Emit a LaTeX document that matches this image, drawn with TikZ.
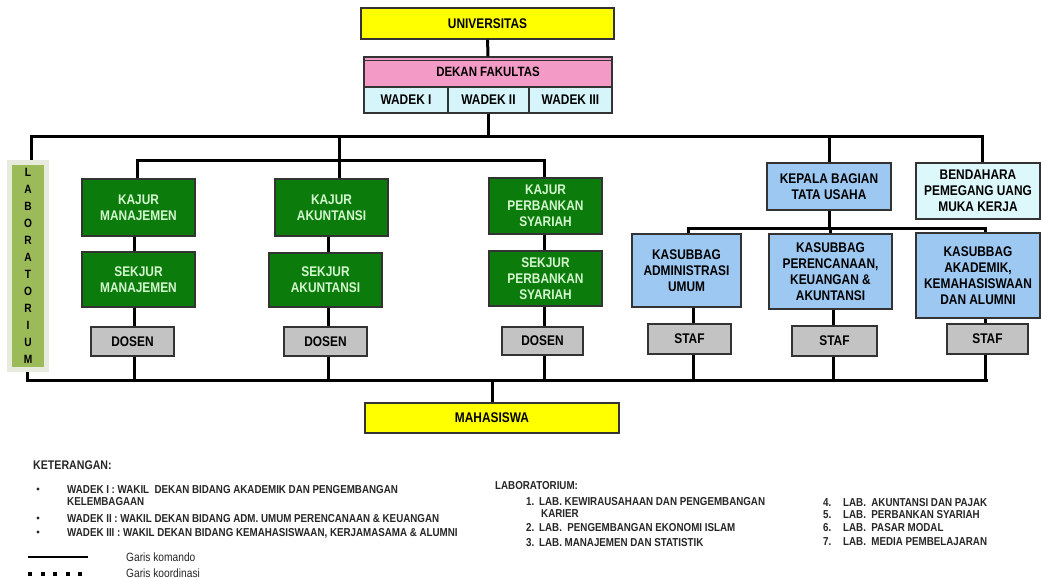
\documentclass[tikz,border=0pt]{standalone}
\usepackage{fontspec}
\setmainfont{Liberation Sans}[FakeStretch=0.85]
\definecolor{univY}{HTML}{FFFF00}
\definecolor{dekanP}{HTML}{F49AC6}
\definecolor{wadekC}{HTML}{D6F5FA}
\definecolor{grn}{HTML}{0B7B0B}
\definecolor{grnTxt}{HTML}{D4F7CF}
\definecolor{olive}{HTML}{9BBB59}
\definecolor{labBorder}{HTML}{E6EBDD}
\definecolor{blu}{HTML}{9CC8F2}
\definecolor{bendC}{HTML}{DDF8FB}
\definecolor{gry}{HTML}{C3C3C3}
\definecolor{edge}{HTML}{333333}
\tikzset{
  cmd/.style={line width=3pt, black},
  box/.style={draw=edge, line width=1.2pt, align=center, inner sep=0pt,
    font=\bfseries\fontsize{14}{16}\selectfont, text=black},
  ybox/.style={box, fill=univY},
  gbox/.style={box, fill=grn, text=grnTxt, minimum width=113pt},
  sbox/.style={box, fill=gry},
  bbox/.style={box, fill=blu},
  leg/.style={anchor=base west, inner sep=0pt, font=\bfseries\fontsize{11.5}{13}\selectfont, text=black!85},
  legr/.style={anchor=base west, inner sep=0pt, font=\fontsize{12}{14}\selectfont, text=black!85},
}
\begin{document}
\begin{tikzpicture}[x=1pt,y=-1pt]
\useasboundingbox[fill=white] (0,0) rectangle (1041,578);

% top
\node[ybox, minimum width=253pt, minimum height=31pt] (univ) at (487.5,23.5) {UNIVERSITAS};
\node[box, fill=dekanP, minimum width=248pt, minimum height=30pt, font=\bfseries\fontsize{13.5}{16}\selectfont] (dekan) at (488,72) {\raisebox{-2pt}{DEKAN FAKULTAS}};
\draw[edge, line width=0.6pt] ([yshift=-4pt]dekan.north west) -- ([yshift=-4pt]dekan.north east);
\node[box, fill=wadekC, minimum width=84pt, minimum height=26pt] (wadek1) at (406,100) {WADEK I};
\node[box, fill=wadekC, minimum width=81pt, minimum height=26pt] (wadek2) at (488.5,100) {WADEK II};
\node[box, fill=wadekC, minimum width=83pt, minimum height=26pt] (wadek3) at (570.5,100) {WADEK III};

% laboratorium
\node[draw=labBorder, line width=5pt, fill=olive, minimum width=37pt, minimum height=207pt,
  align=center, inner sep=0pt, font=\bfseries\fontsize{12}{17}\selectfont] (lab) at (28,265.5)
  {L\\A\\B\\O\\R\\A\\T\\O\\R\\I\\U\\M};

% jurusan
\node[gbox, minimum height=57pt] (kajur1) at (138.5,207.5) {KAJUR\\MANAJEMEN};
\node[gbox, minimum height=55pt] (sekjur1) at (138.5,279.5) {SEKJUR\\MANAJEMEN};
\node[sbox, minimum width=83pt, minimum height=29pt] (dosen1) at (132.5,341.5) {DOSEN};
\node[gbox, minimum height=57pt] (kajur2) at (331.5,207.5) {KAJUR\\AKUNTANSI};
\node[gbox, minimum height=54pt] (sekjur2) at (325.5,280) {SEKJUR\\AKUNTANSI};
\node[sbox, minimum width=83pt, minimum height=29pt] (dosen2) at (325.5,341.5) {DOSEN};
\node[gbox, minimum height=56pt] (kajur3) at (545.5,206) {KAJUR\\PERBANKAN\\SYARIAH};
\node[gbox, minimum height=55pt] (sekjur3) at (545.5,278.5) {SEKJUR\\PERBANKAN\\SYARIAH};
\node[sbox, minimum width=81pt, minimum height=28pt] (dosen3) at (542.5,341) {DOSEN};

% tata usaha
\node[bbox, minimum width=124pt, minimum height=47pt] (kepala) at (829,186.5) {KEPALA BAGIAN\\TATA USAHA};
\node[box, fill=bendC, minimum width=124pt, minimum height=56pt] (bend) at (978,191) {BENDAHARA\\PEMEGANG UANG\\MUKA KERJA};
\node[bbox, minimum width=109pt, minimum height=73pt] (kas1) at (686.5,270.5) {KASUBBAG\\ADMINISTRASI\\UMUM};
\node[bbox, minimum width=123pt, minimum height=75pt] (kas2) at (830.5,271.5) {KASUBBAG\\PERENCANAAN,\\KEUANGAN \&\\AKUNTANSI};
\node[bbox, minimum width=124pt, minimum height=85pt] (kas3) at (978,275.5) {KASUBBAG\\AKADEMIK,\\KEMAHASISWAAN\\DAN ALUMNI};
\node[sbox, minimum width=83pt, minimum height=30pt] (staf1) at (689.5,339) {STAF};
\node[sbox, minimum width=85pt, minimum height=30pt] (staf2) at (834.5,341) {STAF};
\node[sbox, minimum width=81pt, minimum height=30pt] (staf3) at (987.5,339) {STAF};

% mahasiswa
\node[ybox, minimum width=254pt, minimum height=30pt] (mhs) at (492,418) {MAHASISWA};

% connectors
\draw[cmd] (univ) -- (dekan);
\coordinate (tbL) at (31,136); \coordinate (tbR) at (982,136);
\draw[cmd] (lab.north -| tbL) -- (tbL) -- (tbR) -- (bend.north -| tbR);
\draw[cmd] (wadek2.south) -- (wadek2.south |- tbL);
\draw[cmd] (kepala.north) -- (kepala.north |- tbL);
\coordinate (sbL) at (137,160); \coordinate (sbM) at (339,160); \coordinate (sbR) at (544,160);
\draw[cmd] (sbM) -- (sbM |- tbL);
\draw[cmd] (kajur1.north -| sbL) -- (sbL) -- (sbR) -- (kajur3.north -| sbR);
\draw[cmd] (sbM) -- (kajur2.north -| sbM);

\coordinate (bbL) at (27,380); \coordinate (bbR) at (988,380);
\draw[cmd] (lab.south -| bbL) -- (bbL) -- (bbR);
\draw[cmd] (mhs.north) -- (mhs.north |- bbL);

\coordinate (c1) at (134,0); \coordinate (c2) at (328,0); \coordinate (c3) at (544,0);
\draw[cmd] (kajur1.south -| c1) -- (sekjur1.north -| c1);
\draw[cmd] (sekjur1.south -| c1) -- (dosen1.north -| c1);
\draw[cmd] (dosen1.south -| c1) -- (c1 |- bbL);
\draw[cmd] (kajur2.south -| c2) -- (sekjur2.north -| c2);
\draw[cmd] (sekjur2.south -| c2) -- (dosen2.north -| c2);
\draw[cmd] (dosen2.south -| c2) -- (c2 |- bbL);
\draw[cmd] (kajur3.south -| c3) -- (sekjur3.north -| c3);
\draw[cmd] (sekjur3.south -| c3) -- (dosen3.north -| c3);
\draw[cmd] (dosen3.south -| c3) -- (c3 |- bbL);

\coordinate (kbL) at (688,228); \coordinate (kbR) at (985,228);
\draw[cmd] (kepala.south) -- (kepala.south |- kbL);
\draw[cmd] (kas1.north -| kbL) -- (kbL) -- (kbR) -- (kas3.north -| kbR);
\draw[cmd] (kas2.north) -- (kas2.north |- kbL);
\coordinate (c4) at (693,0); \coordinate (c5) at (833,0); \coordinate (c6) at (985,0);
\draw[cmd] (kas1.south -| c4) -- (staf1.north -| c4);
\draw[cmd] (staf1.south -| c4) -- (c4 |- bbL);
\draw[cmd] (kas2.south -| c5) -- (staf2.north -| c5);
\draw[cmd] (staf2.south -| c5) -- (c5 |- bbL);
\draw[cmd] (kas3.south -| c6) -- (staf3.north -| c6);
\draw[cmd] (staf3.south -| c6) -- (c6 |- bbL);

% legend
\node[leg, font=\bfseries\fontsize{12.5}{14}\selectfont] (ket) at (33,469) {KETERANGAN:};
\foreach \y in {489,518,532} \fill[black!85] (38,\y) circle (1.6pt);
\node[leg] (k1) at (67,493) {WADEK I : WAKIL\ \ DEKAN BIDANG AKADEMIK DAN PENGEMBANGAN};
\node[leg] (k1b) at (67,505) {KELEMBAGAAN};
\node[leg] (k2) at (67,522) {WADEK II : WAKIL DEKAN BIDANG ADM. UMUM PERENCANAAN \& KEUANGAN};
\node[leg] (k3) at (67,536) {WADEK III : WAKIL DEKAN BIDANG KEMAHASISWAAN, KERJAMASAMA \& ALUMNI};
\draw[line width=2.5pt] (28,557) -- (88,557);
\draw[line width=4pt, dash pattern=on 4pt off 8.5pt] (28,574) -- (83,574);
\node[legr] (gk) at (126,561) {Garis komando};
\node[legr] (gko) at (126,577) {Garis koordinasi};

\node[leg] (labt) at (495,489) {LABORATORIUM:};
\node[leg] (n1) at (526,505) {1.};
\node[leg] (l1) at (539,505) {LAB. KEWIRAUSAHAAN DAN PENGEMBANGAN};
\node[leg] (l1b) at (541,517) {KARIER};
\node[leg] (n2) at (526,531) {2.};
\node[leg] (l2) at (539,531) {LAB.\ \ PENGEMBANGAN EKONOMI ISLAM};
\node[leg] (n3) at (526,546) {3.};
\node[leg] (l3) at (539,546) {LAB. MANAJEMEN DAN STATISTIK};
\node[leg] (n4) at (823,506) {4.};
\node[leg] (l4) at (843,506) {LAB.\ \ AKUNTANSI DAN PAJAK};
\node[leg] (n5) at (823,518) {5.};
\node[leg] (l5) at (843,518) {LAB.\ \ PERBANKAN SYARIAH};
\node[leg] (n6) at (823,531) {6.};
\node[leg] (l6) at (843,531) {LAB.\ \ PASAR MODAL};
\node[leg] (n7) at (823,545) {7.};
\node[leg] (l7) at (843,545) {LAB.\ \ MEDIA PEMBELAJARAN};
\end{tikzpicture}
\end{document}
